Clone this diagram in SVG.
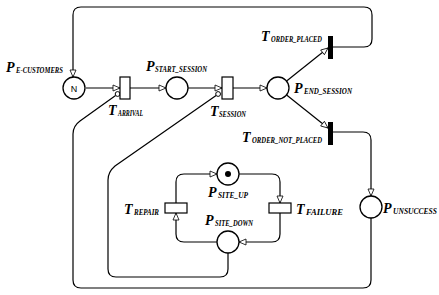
<svg xmlns="http://www.w3.org/2000/svg" width="439" height="295" viewBox="0 0 439 295">
<defs>
<style>
.pl{fill:#fff;stroke:#000;stroke-width:1.3}
.tr{fill:#fff;stroke:#000;stroke-width:1.2}
.bar{fill:#000}
.c{fill:none;stroke:#000;stroke-width:1.2}
.m{font-family:"Liberation Serif",serif;font-weight:bold;font-style:italic;font-size:14px;fill:#000}
.s{font-family:"Liberation Serif",serif;font-weight:bold;font-style:italic;font-size:7.5px;fill:#000}
.n{font-family:"Liberation Sans",sans-serif;font-size:9px;fill:#000}
.inh{fill:#fff;stroke:#000;stroke-width:1}
</style>
<marker id="ah" markerUnits="userSpaceOnUse" markerWidth="9" markerHeight="8" refX="7" refY="3" orient="auto" viewBox="-1 -1 9 8">
<path d="M0,0 L7,3 L0,6 z" fill="#fff" stroke="#000" stroke-width="0.8"/>
</marker>
</defs>
<rect width="439" height="295" fill="#fff"/>
<g id="connectors">
<path class="c" d="M86,88 H120" marker-end="url(#ah)"/>
<path class="c" d="M130,88 H166" marker-end="url(#ah)"/>
<path class="c" d="M188,88 H222" marker-end="url(#ah)"/>
<path class="c" d="M233,88 H267" marker-end="url(#ah)"/>
<path class="c" d="M286.6,81 L328,48" marker-end="url(#ah)"/>
<path class="c" d="M286.6,95 L328,128" marker-end="url(#ah)"/>
<path class="c" d="M333,47 H364 Q372,47 372,39 V15 Q372,7 364,7 H81 Q73,7 73,15 V77" marker-end="url(#ah)"/>
<path class="c" d="M333,132 H363 Q371,132 371,140 V196" marker-end="url(#ah)"/>
<path class="c" d="M371,218 V280 Q371,288 363,288 H81 Q73,288 73,280 V134 Q73,126 80,121 L115.6,95.4"/>
<circle class="inh" cx="117.6" cy="94" r="2.4"/>
<path class="c" d="M228,253 V269 Q228,277 220,277 H116 Q108,277 108,269 V180 Q108,172 115,166 L216.1,95.4"/>
<circle class="inh" cx="218.1" cy="94" r="2.4"/>
<path class="c" d="M239,174 H272 Q280,174 280,182 V203" marker-end="url(#ah)"/>
<path class="c" d="M280,213 V234 Q280,242 272,242 H239" marker-end="url(#ah)"/>
<path class="c" d="M217,242 H184 Q176,242 176,234 V213" marker-end="url(#ah)"/>
<path class="c" d="M176,203 V182 Q176,174 184,174 H217" marker-end="url(#ah)"/>
</g>
<g id="p-e-customers">
<circle class="pl" cx="74" cy="88" r="11"/>
<text class="n" x="74" y="91.5" text-anchor="middle">N</text>
<text class="m" x="6" y="72">P</text>
<text class="s" x="16" y="73" textLength="47" lengthAdjust="spacingAndGlyphs">E-CUSTOMERS</text>
</g>
<g id="t-arrival">
<rect class="tr" x="120" y="77" width="10" height="22"/>
<text class="m" x="108" y="115">T</text>
<text class="s" x="118" y="116" textLength="25" lengthAdjust="spacingAndGlyphs">ARRIVAL</text>
</g>
<g id="p-start-session">
<circle class="pl" cx="177" cy="88" r="11"/>
<text class="m" x="146" y="71">P</text>
<text class="s" x="155" y="72" textLength="52" lengthAdjust="spacingAndGlyphs">START_SESSION</text>
</g>
<g id="t-session">
<rect class="tr" x="222" y="77" width="11" height="22"/>
<text class="m" x="210" y="116">T</text>
<text class="s" x="219" y="117" textLength="27" lengthAdjust="spacingAndGlyphs">SESSION</text>
</g>
<g id="p-end-session">
<circle class="pl" cx="278" cy="88" r="11"/>
<text class="m" x="294" y="93">P</text>
<text class="s" x="304" y="94" textLength="48" lengthAdjust="spacingAndGlyphs">END_SESSION</text>
</g>
<g id="t-order-placed">
<rect class="bar" x="328" y="36" width="5" height="23"/>
<text class="m" x="261" y="41">T</text>
<text class="s" x="271" y="42" textLength="51" lengthAdjust="spacingAndGlyphs">ORDER_PLACED</text>
</g>
<g id="t-order-not-placed">
<rect class="bar" x="328" y="122" width="5" height="23"/>
<text class="m" x="242" y="142">T</text>
<text class="s" x="252" y="143" textLength="70" lengthAdjust="spacingAndGlyphs">ORDER_NOT_PLACED</text>
</g>
<g id="p-unsuccess">
<circle class="pl" cx="371" cy="207" r="11"/>
<text class="m" x="383" y="213">P</text>
<text class="s" x="393" y="214" textLength="44" lengthAdjust="spacingAndGlyphs">UNSUCCESS</text>
</g>
<g id="p-site-up">
<circle class="pl" cx="228" cy="174" r="11"/>
<circle cx="228" cy="174" r="3" fill="#000"/>
<text class="m" x="208" y="197">P</text>
<text class="s" x="218" y="198" textLength="30" lengthAdjust="spacingAndGlyphs">SITE_UP</text>
</g>
<g id="t-repair">
<rect class="tr" x="165" y="203" width="22" height="10"/>
<text class="m" x="124" y="214">T</text>
<text class="s" x="134" y="215" textLength="25" lengthAdjust="spacingAndGlyphs">REPAIR</text>
</g>
<g id="t-failure">
<rect class="tr" x="269" y="203" width="22" height="10"/>
<text class="m" x="296" y="214">T</text>
<text class="s" x="306" y="215" textLength="37" lengthAdjust="spacingAndGlyphs">FAILURE</text>
</g>
<g id="p-site-down">
<circle class="pl" cx="228" cy="242" r="11"/>
<text class="m" x="205" y="225">P</text>
<text class="s" x="215" y="226" textLength="38" lengthAdjust="spacingAndGlyphs">SITE_DOWN</text>
</g>
</svg>
